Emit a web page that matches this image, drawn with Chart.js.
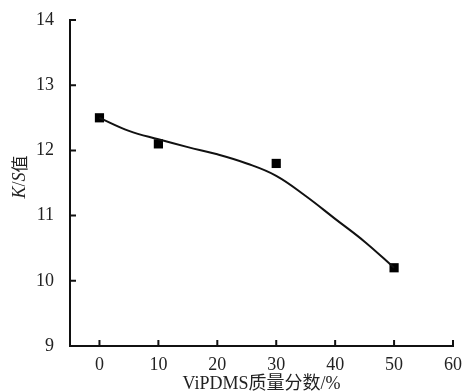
<!DOCTYPE html>
<html>
<head>
<meta charset="utf-8">
<script src="https://cdn.jsdelivr.net/npm/chart.js@4"></script>
<style>
  html, body { margin: 0; padding: 0; background: #fff; }
  #wrap { width: 465px; height: 392px; }
</style>
</head>
<body>
<div id="wrap"><canvas id="ks-chart" width="465" height="392"></canvas></div>
<script>
// measured points
const massFraction = [0, 10, 30, 50];
const ksValue = [12.5, 12.1, 11.8, 10.2];

// fitted curve
const fitX = [0, 5, 10, 15, 20, 25, 30, 35, 40, 45, 50];
const fitY = [12.5, 12.3, 12.17, 12.05, 11.94, 11.8, 11.61, 11.3, 10.95, 10.6, 10.2];

const xTicks = [0, 10, 20, 30, 40, 50, 60];
const yTicks = [9, 10, 11, 12, 13, 14];

const serif = "'Liberation Serif', 'Times New Roman', serif";
const cjk = "'Noto Sans CJK SC'";

// y title with italic K and S
const yTitlePlugin = {
    id: 'yTitle',
    afterDraw(chart) {
        const ctx = chart.ctx;
        const parts = [
            {t: 'K', f: 'italic 18px ' + serif},
            {t: '/', f: '18px ' + serif},
            {t: 'S', f: 'italic 18px ' + serif},
            {t: '值', f: '17px ' + cjk}
        ];
        ctx.save();
        let total = 0;
        parts.forEach(p => { ctx.font = p.f; p.w = ctx.measureText(p.t).width; total += p.w; });
        ctx.translate(20, 177);
        ctx.rotate(-Math.PI / 2);
        ctx.fillStyle = '#222';
        ctx.textBaseline = 'middle';
        let x = -total / 2;
        parts.forEach(p => { ctx.font = p.f; ctx.fillText(p.t, x, 0); x += p.w; });
        ctx.restore();
    }
};

// tick marks pointing into the plot
const innerTicks = {
    id: 'innerTicks',
    afterDraw(chart) {
        const ctx = chart.ctx;
        const xs = chart.scales.x, ys = chart.scales.y;
        const area = chart.chartArea;
        ctx.save();
        ctx.strokeStyle = '#111';
        ctx.lineWidth = 2;
        ctx.beginPath();
        xTicks.forEach(v => {
            const px = xs.getPixelForValue(v);
            ctx.moveTo(px, area.bottom);
            ctx.lineTo(px, area.bottom - 6);
        });
        yTicks.forEach(v => {
            const py = ys.getPixelForValue(v);
            ctx.moveTo(area.left, py);
            ctx.lineTo(area.left + 6, py);
        });
        ctx.stroke();
        ctx.restore();
    }
};

const ctx = document.getElementById('ks-chart').getContext('2d');
const chart = new Chart(ctx, {
    type: 'scatter',
    data: {
        datasets: [{
            data: fitX.map((x, i) => ({x: x, y: fitY[i]})),
            showLine: true,
            borderColor: '#111',
            borderWidth: 2,
            pointRadius: 0,
            tension: 0.4,
            fill: false
        }, {
            data: massFraction.map((x, i) => ({x: x, y: ksValue[i]})),
            pointStyle: 'rect',
            pointRadius: 6.5,
            backgroundColor: '#000',
            borderColor: '#000',
            borderWidth: 0
        }]
    },
    options: {
        responsive: false,
        animation: false,
        layout: {padding: {left: 0, right: 12, top: 20, bottom: 0}},
        plugins: {
            legend: {display: false},
            tooltip: {enabled: false}
        },
        scales: {
            x: {
                type: 'linear',
                min: -5,
                max: 60,
                afterBuildTicks: s => { s.ticks = xTicks.map(v => ({value: v})); },
                afterFit: s => { s.height = 46; s.paddingRight = 0; s.paddingLeft = 0; },
                border: {color: '#111', width: 2},
                grid: {display: false, drawTicks: false},
                ticks: {padding: 8, color: '#222', font: {family: serif, size: 18}},
                title: {
                    display: true,
                    text: 'ViPDMS质量分数/%',
                    color: '#222',
                    padding: {top: 0, bottom: -3},
                    font: {family: serif + ', ' + cjk, size: 18}
                }
            },
            y: {
                min: 9,
                max: 14,
                afterBuildTicks: s => { s.ticks = yTicks.map(v => ({value: v})); },
                afterFit: s => { s.width = 70; s.paddingTop = 0; s.paddingBottom = 0; },
                border: {color: '#111', width: 2},
                grid: {display: false},
                ticks: {padding: 8, color: '#222', font: {family: serif, size: 18}}
            }
        }
    },
    plugins: [yTitlePlugin, innerTicks]
});
</script>
</body>
</html>
